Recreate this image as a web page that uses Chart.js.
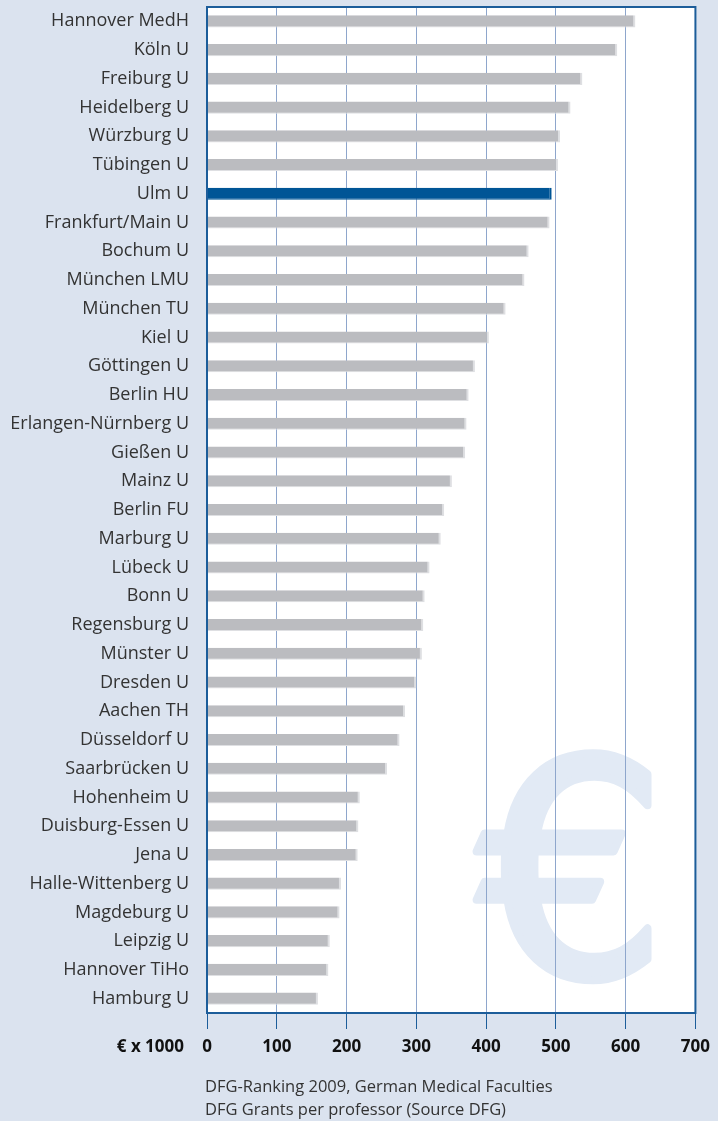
<!DOCTYPE html>
<html>
<head>
<meta charset="utf-8">
<script src="https://cdn.jsdelivr.net/npm/chart.js@4/dist/chart.umd.min.js"></script>
<style>
  html, body { margin: 0; padding: 0; background: #dbe3ef; }
  #wrap { width: 718px; height: 1121px; position: relative; }
</style>
</head>
<body>
<div id="wrap"><canvas id="chart" width="718" height="1121"></canvas></div>
<script>
// DFG grants per professor, € x 1000
const faculties = [
  "Hannover MedH", "Köln U", "Freiburg U", "Heidelberg U", "Würzburg U",
  "Tübingen U", "Ulm U", "Frankfurt/Main U", "Bochum U", "München LMU",
  "München TU", "Kiel U", "Göttingen U", "Berlin HU", "Erlangen-Nürnberg U",
  "Gießen U", "Mainz U", "Berlin FU", "Marburg U", "Lübeck U",
  "Bonn U", "Regensburg U", "Münster U", "Dresden U", "Aachen TH",
  "Düsseldorf U", "Saarbrücken U", "Hohenheim U", "Duisburg-Essen U", "Jena U",
  "Halle-Wittenberg U", "Magdeburg U", "Leipzig U", "Hannover TiHo", "Hamburg U",
];
const grantsPerProf = [
  614, 588, 538, 521, 506,
  503, 494, 491, 461, 455,
  428, 404, 384, 375, 372,
  370, 351, 340, 335, 319,
  312, 310, 308, 300, 284,
  276, 258, 219, 217, 216,
  192, 190, 176, 174, 159,
];
const highlighted = "Ulm U";
const axisTicks = [0, 100, 200, 300, 400, 500, 600, 700];
const unitLabel = "€ x 1000";
const footnoteLines = [
  "DFG-Ranking 2009, German Medical Faculties",
  "DFG Grants per professor (Source DFG)",
];

const BLUE = "#1c5d9a";
const GRID = "#8ea6cc";
const GREY_BAR = "#bbbcc0";
const HILITE_BAR = "#005596";
const TEXT = "#333333";
const FONT = "'Open Sans', sans-serif";

const barColors = faculties.map((name) => (name === highlighted ? HILITE_BAR : GREY_BAR));
const barEdges = faculties.map((name) => (name === highlighted ? HILITE_BAR : "#dedfe2"));

// white plot area with the big euro watermark, under the grid
const plotBackground = {
  id: "plotBackground",
  beforeDraw(chart) {
    const { ctx, chartArea } = chart;
    const w = chartArea.right - chartArea.left;
    const h = chartArea.bottom - chartArea.top;
    ctx.save();
    ctx.fillStyle = "#ffffff";
    ctx.fillRect(chartArea.left, chartArea.top, w, h);
    ctx.beginPath();
    ctx.rect(chartArea.left, chartArea.top, w, h);
    ctx.clip();
    ctx.fillStyle = "#e2eaf5";
    ctx.strokeStyle = "#e2eaf5";
    ctx.lineWidth = 8;
    ctx.lineJoin = "round";
    ctx.font = "300px 'DejaVu Sans', sans-serif";
    ctx.textAlign = "center";
    ctx.textBaseline = "alphabetic";
    ctx.fillText("€", 572, 976);
    ctx.strokeText("€", 572, 976);
    ctx.restore();
  },
};

// frame around the plot, unit label and source notes
const frameAndNotes = {
  id: "frameAndNotes",
  afterDatasetsDraw(chart) {
    const { ctx, chartArea } = chart;
    ctx.save();
    ctx.strokeStyle = BLUE;
    ctx.lineWidth = 2;
    ctx.strokeRect(chartArea.left, chartArea.top, chartArea.right - chartArea.left, chartArea.bottom - chartArea.top);
    ctx.restore();
  },
  afterDraw(chart) {
    const { ctx, chartArea } = chart;
    ctx.save();
    ctx.fillStyle = "#111111";
    ctx.font = "bold 17px " + FONT;
    ctx.textAlign = "right";
    ctx.textBaseline = "middle";
    ctx.fillText(unitLabel, 184, 1047);
    ctx.fillStyle = TEXT;
    ctx.font = "16.5px " + FONT;
    ctx.textAlign = "left";
    footnoteLines.forEach((line, i) => {
      ctx.fillText(line, chartArea.left - 2, 1087 + i * 23);
    });
    ctx.restore();
  },
};

new Chart(document.getElementById("chart"), {
  type: "bar",
  data: {
    labels: faculties,
    datasets: [{
      data: grantsPerProf,
      backgroundColor: barColors,
      borderColor: barEdges,
      borderWidth: { top: 0, left: 0, right: 2, bottom: 1 },
      borderSkipped: false,
      barPercentage: 0.42,
      categoryPercentage: 1,
    }],
  },
  options: {
    indexAxis: "y",
    responsive: false,
    animation: false,
    layout: { padding: { top: 7, right: 21, left: 0, bottom: 0 } },
    plugins: {
      legend: { display: false },
      tooltip: { enabled: false },
    },
    scales: {
      x: {
        min: 0,
        max: 700,
        afterBuildTicks(scale) {
          scale.ticks = axisTicks.map((v) => ({ value: v }));
        },
        afterFit(scale) {
          scale.height = 108;
        },
        grid: {
          color: GRID,
          lineWidth: 1,
          tickColor: BLUE,
          tickLength: 16,
        },
        border: { display: false },
        ticks: {
          color: "#111111",
          padding: 8,
          maxRotation: 0,
          font: { family: FONT, size: 17, weight: "bold" },
        },
      },
      y: {
        afterFit(scale) {
          scale.width = 207;
          scale.paddingTop = 0;
          scale.paddingBottom = 0;
        },
        grid: { display: false, drawTicks: false },
        border: { display: false },
        ticks: {
          color: TEXT,
          padding: 18,
          autoSkip: false,
          font: { family: FONT, size: 18 },
        },
      },
    },
  },
  plugins: [plotBackground, frameAndNotes],
});
</script>
</body>
</html>
